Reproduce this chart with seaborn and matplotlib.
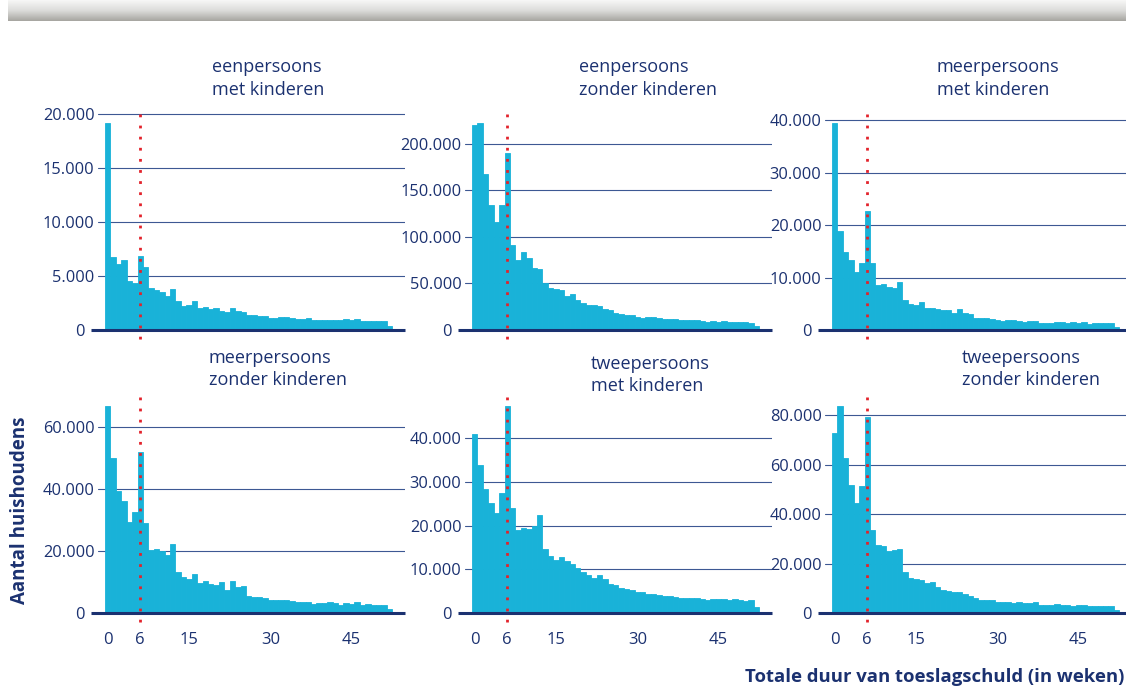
import numpy as np
import pandas as pd
import matplotlib.pyplot as plt
import seaborn as sns
from matplotlib.colors import LinearSegmentedColormap
from matplotlib.transforms import ScaledTranslation

# weeks of toeslagschuld (1-week bins)
weeks = list(range(53))

titles = [
    "eenpersoons\nmet kinderen",
    "eenpersoons\nzonder kinderen",
    "meerpersoons\nmet kinderen",
    "meerpersoons\nzonder kinderen",
    "tweepersoons\nmet kinderen",
    "tweepersoons\nzonder kinderen",
]

een_met = [19200, 6800, 6100, 6500, 4550, 4400, 6900, 5850, 3900, 3750,
           3550, 3150, 3800, 2700, 2250, 2350, 2700, 2050, 2150, 1950,
           2050, 1800, 1700, 2050, 1800, 1700, 1400, 1400, 1300, 1300,
           1150, 1150, 1200, 1200, 1100, 1050, 1050, 1100, 950, 950,
           900, 950, 950, 900, 1050, 950, 1050, 800, 850, 850,
           850, 850, 380]
een_zonder = [220000, 222000, 167000, 134000, 116000, 134000, 190000, 91000, 75000, 84000,
              77000, 66500, 65500, 50500, 45000, 44000, 43000, 36500, 38500, 32000,
              29000, 27000, 27000, 26000, 22500, 21500, 18000, 17000, 16000, 16000,
              14000, 13000, 14000, 14000, 13000, 12000, 12000, 12000, 10500, 10500,
              10500, 10500, 9500, 8500, 9500, 8500, 9500, 8500, 8500, 8500,
              8500, 7500, 4300]
meer_met = [39500, 18900, 14900, 13400, 11000, 12800, 22700, 12800, 8600, 8800,
            8200, 8000, 9200, 5700, 5000, 4800, 5300, 4200, 4200, 4000,
            3800, 3800, 3250, 4000, 3250, 3050, 2300, 2300, 2300, 2100,
            1900, 1700, 1900, 1900, 1700, 1550, 1700, 1700, 1350, 1350,
            1350, 1550, 1550, 1350, 1550, 1350, 1550, 1150, 1350, 1350,
            1350, 1350, 570]
meer_zonder = [66900, 50100, 39500, 36200, 29500, 32700, 52000, 29100, 20400, 20700,
               20100, 18800, 22400, 13300, 11700, 11100, 12700, 9800, 10400, 9500,
               9100, 10100, 7500, 10400, 8500, 8800, 5600, 5300, 5300, 5000,
               4300, 4300, 4300, 4300, 4000, 3650, 3650, 3650, 3000, 3350,
               3350, 3650, 3350, 2700, 3350, 3000, 3650, 2700, 3000, 2700,
               2700, 2700, 1400]
twee_met = [41000, 34000, 28500, 25300, 23000, 27600, 47500, 24100, 19100, 19500,
            19300, 20000, 22500, 14700, 13100, 12200, 12900, 12000, 11300, 10200,
            9500, 8800, 8100, 8800, 7900, 6700, 6300, 5800, 5600, 5300,
            4900, 4700, 4400, 4400, 4200, 4000, 4000, 3700, 3500, 3500,
            3500, 3500, 3300, 3050, 3300, 3300, 3300, 3050, 3300, 3050,
            2800, 3050, 1450]
twee_zonder = [72900, 83800, 62800, 51900, 44600, 51500, 79300, 33700, 27600, 27200,
               25200, 25600, 26000, 16700, 14300, 13900, 13500, 12300, 12700, 10600,
               9400, 9000, 8600, 8600, 7800, 7000, 6200, 5400, 5400, 5400,
               4600, 4600, 4600, 4200, 4600, 4200, 4200, 4600, 3400, 3400,
               3400, 3800, 3400, 3400, 3000, 3400, 3400, 3000, 3000, 3000,
               3000, 3000, 1350]
series = [een_met, een_zonder, meer_met, meer_zonder, twee_met, twee_zonder]

yticks = [
    [0, 5000, 10000, 15000, 20000],
    [0, 50000, 100000, 150000, 200000],
    [0, 10000, 20000, 30000, 40000],
    [0, 20000, 40000, 60000],
    [0, 10000, 20000, 30000, 40000],
    [0, 20000, 40000, 60000, 80000],
]
xticks = [0, 6, 15, 30, 45]

# layout (pixels)
W, H = 1126, 690
lefts = [98, 465, 825, 98, 465, 825]
bases = [330, 330, 330, 613, 613, 613]
ymaxs = [20120, 232960, 41390, 70000, 49710, 87680]
title_x = [212, 579, 937, 209, 591, 962]
title_y = [78.5, 78.5, 78.5, 369, 375, 369]
AX_W, AX_H = 307, 217

NAVY = "#1b3170"
BAR = "#19b2d8"
GRID = "#3d5893"
RED = "#e2232b"

sns.set_style("white")
plt.rcParams["font.family"] = ["Open Sans", "DejaVu Sans"]

fig = plt.figure(figsize=(W / 100, H / 100), dpi=100)

# grey banner on top
bax = fig.add_axes([8 / W, 1 - 21 / H, 1 - 8 / W, 21 / H])
cmap = LinearSegmentedColormap.from_list("banner", ["#f7f7f6", "#dcdcda", "#a7a6a1"])
bax.imshow(np.linspace(0, 1, 40).reshape(-1, 1), aspect="auto", cmap=cmap)
bax.axis("off")


def fmt(v):
    return f"{v:,}".replace(",", ".")


for i in range(6):
    ax = fig.add_axes([lefts[i] / W, (H - bases[i]) / H, AX_W / W, AX_H / H])
    df = pd.DataFrame({"week": weeks, "n": series[i]})
    sns.barplot(data=df, x="week", y="n", native_scale=True, width=1.0,
                color=BAR, saturation=1, linewidth=0.6, edgecolor=BAR,
                errorbar=None, ax=ax, zorder=2)
    ax.set_xlim(-1.8, 54.85)
    ax.set_ylim(0, ymaxs[i])
    ax.set_xlabel("")
    ax.set_ylabel("")
    for s in ax.spines.values():
        s.set_visible(False)

    for t in yticks[i][1:]:
        ax.axhline(t, color=GRID, lw=0.8, zorder=0)
    ax.plot([-3.1, 54.85], [0, 0], color=NAVY, lw=2.2, clip_on=False,
            solid_capstyle="butt", zorder=3)
    ax.axvline(6, ymin=-9 / AX_H, ymax=1, color=RED, lw=2.0,
               linestyle=(0, (1, 3)), clip_on=False, zorder=4)

    ax.set_yticks(yticks[i])
    ax.set_yticklabels([fmt(t) for t in yticks[i]])
    ax.tick_params(axis="y", length=0, labelsize=11.8, labelcolor=NAVY, pad=2.5)
    lab0 = ax.get_yticklabels()[0]
    lab0.set_transform(lab0.get_transform() + ScaledTranslation(-0.1, 0, fig.dpi_scale_trans))

    if i >= 3:
        ax.set_xticks(xticks)
        ax.set_xticklabels([str(t) for t in xticks])
        ax.tick_params(axis="x", length=0, labelsize=12, labelcolor=NAVY, pad=13.5)
    else:
        ax.set_xticks([])

    fig.text(title_x[i] / W, 1 - title_y[i] / H, titles[i], ha="left", va="center",
             fontsize=13, color=NAVY, linespacing=1.3)

fig.text(20 / W, 1 - 510 / H, "Aantal huishoudens", rotation=90, ha="center",
         va="center", fontsize=13.5, fontweight="bold", color=NAVY)
fig.text(1124 / W, 1 - 677 / H, "Totale duur van toeslagschuld (in weken)",
         ha="right", va="center", fontsize=13.3, fontweight="bold", color=NAVY)

fig.savefig("out.png", dpi=100)
